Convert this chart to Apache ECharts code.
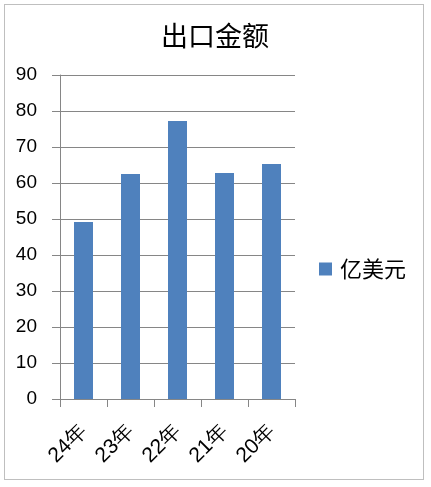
<!DOCTYPE html>
<html><head><meta charset="utf-8">
<script src="https://cdn.jsdelivr.net/npm/echarts@6/dist/echarts.min.js"></script>
<style>html,body{margin:0;padding:0;background:#fff;}#c{width:431px;height:487px;}
#frame{position:absolute;left:4px;top:4px;width:420px;height:476px;border:1px solid #bfbfbf;box-sizing:border-box;pointer-events:none;}</style>
</head><body>
<div id="c"></div><div id="frame"></div>
<script>
const categories = ['24年', '23年', '22年', '21年', '20年'];
const values = [49.2, 62.5, 77.2, 62.8, 65.3];
const seriesName = '亿美元';
const titleText = '出口金额';

const chart = echarts.init(document.getElementById('c'), null, {renderer: 'canvas'});
chart.setOption({
  animation: false,
  backgroundColor: '#fff',
  title: {text: titleText, left: 210, top: 17, textAlign: 'center',
    textStyle: {fontFamily: 'Noto Sans CJK SC', fontSize: 27, fontWeight: 'normal', color: '#000'}},
  legend: {data: [seriesName], left: 314, top: 253, orient: 'vertical', itemWidth: 13, itemHeight: 13, itemGap: 6,
    icon: 'rect', textStyle: {fontFamily: 'Noto Sans CJK SC', fontSize: 22, color: '#000', padding: [0,0,0,3]}},
  grid: {left: 60, right: 136, top: 75, bottom: 88, containLabel: false},
  xAxis: {type: 'category', data: categories,
    axisLine: {lineStyle: {color: '#868686', width: 1}},
    axisTick: {show: true, length: 8, alignWithLabel: false, lineStyle: {color: '#868686'}},
    axisLabel: {rotate: 45, margin: 29, fontFamily: 'Liberation Sans', fontSize: 21, color: '#000'}},
  yAxis: {type: 'value', min: 0, max: 90, interval: 10,
    axisLine: {show: true, lineStyle: {color: '#868686'}},
    axisTick: {show: true, length: 8, lineStyle: {color: '#868686'}},
    axisLabel: {margin: 23, fontFamily: 'Liberation Sans', fontSize: 19, color: '#000'},
    splitLine: {lineStyle: {color: '#868686', width: 1}}},
  series: [{name: seriesName, type: 'bar', data: values, barWidth: 19,
    itemStyle: {color: '#4f81bd'}}]
});
</script>
</body></html>
